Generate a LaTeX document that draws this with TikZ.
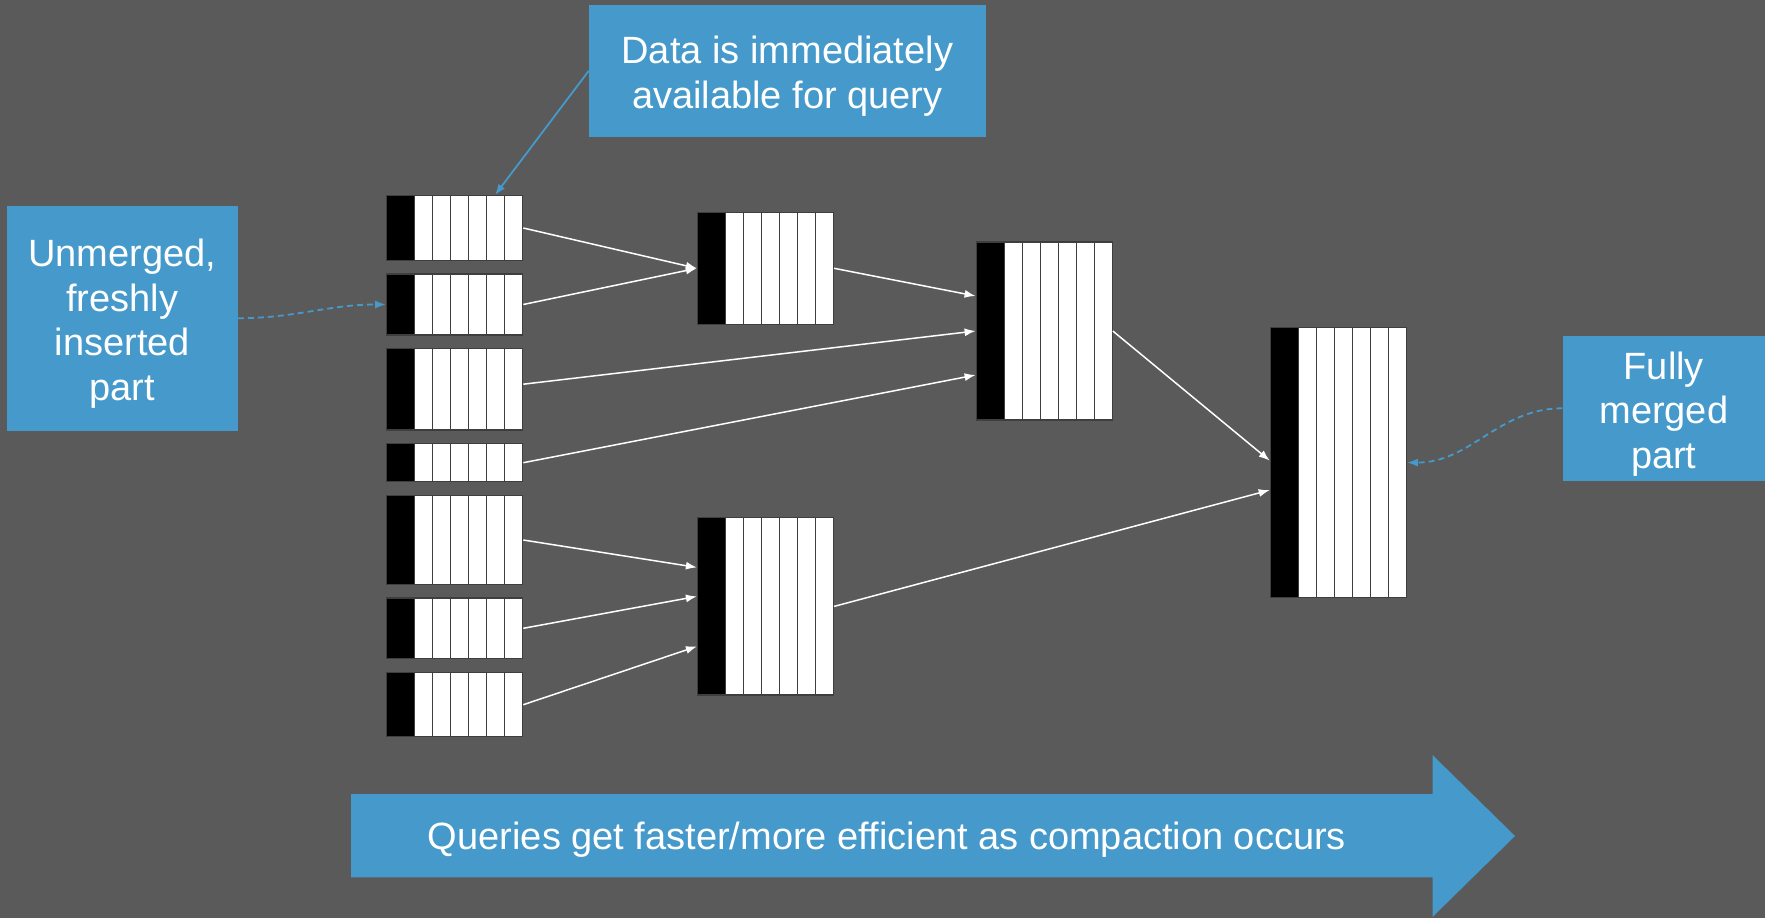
\documentclass[tikz,border=0pt]{standalone}
\usepackage{fontspec}
\setmainfont{Liberation Sans}
\usetikzlibrary{arrows.meta}
\definecolor{slate}{HTML}{5A5A5A}
\definecolor{keyblue}{HTML}{4699CB}
\definecolor{rimgray}{HTML}{3E3E3E}
\newcommand\topgap{\rule{0pt}{38.5pt}}
\tikzset{
    PT/.style ={rectangle, draw=rimgray, line width=1.2pt, fill=white, inner sep=0pt,
        minimum width=136pt, minimum height=#1,
        path picture={
            \fill[black] (path picture bounding box.south west) rectangle ([xshift=28pt]path picture bounding box.north west);
            \foreach \k in {0,...,5}
                \draw[rimgray, line width=1.2pt] ([xshift=28pt+\k*18pt]path picture bounding box.south west) -- ([xshift=28pt+\k*18pt]path picture bounding box.north west);}},
    BX/.style ={rectangle, fill=keyblue, text=white, align=center, inner sep=0pt, font=\fontsize{38}{44.5}\selectfont},
    WA/.style ={draw=white, line width=1.5pt, -{Latex[length=11pt,width=8pt]}},
    BA/.style ={draw=keyblue, line width=1.8pt, -{Latex[length=11pt,width=8pt]}},
    DA/.style ={BA, dash pattern=on 6pt off 4pt}}
\begin{document}
\begin{tikzpicture}[x=1pt,y=-1pt]
        \useasboundingbox (0,0) rectangle (1765,918);
        \fill[slate] (0,0) rectangle (1765,918);
        \node[PT=64.6pt] (u1) at (454.7,228) {};
        \node[PT=61pt] (u2) at (454.7,304.5) {};
        \node[PT=81.7pt] (u3) at (454.7,389.2) {};
        \node[PT=38pt] (u4) at (454.7,462.7) {};
        \node[PT=88.6pt] (u5) at (454.7,540) {};
        \node[PT=60.7pt] (u6) at (454.7,628.3) {};
        \node[PT=64pt] (u7) at (454.7,704.7) {};
        \node[PT=112pt] (m1) at (765.5,268.3) {};
        \node[PT=177.3pt] (m2) at (765.5,606.4) {};
        \node[PT=178pt] (m3) at (1044.2,331) {};
        \node[PT=270pt] (done) at (1338.3,462.6) {};
        \node[BX, minimum width=396.7pt, minimum height=131.7pt] (data) at (787.3,70.8) {\topgap Data is immediately\\available for query};
        \node[BX, minimum width=230.7pt, minimum height=225pt] (fresh) at (122.3,318.2) {\topgap Unmerged,\\freshly\\inserted\\part};
        \node[BX, minimum width=202.3pt, minimum height=144.7pt] (full) at (1663.8,408.3) {\topgap Fully\\merged\\part};
        \fill[keyblue] (351,794) -- (1432.5,794) -- (1432.5,755) -- (1515,836) -- (1432.5,917) -- (1432.5,877.3) -- (351,877.3) -- cycle;
        \node[text=white, anchor=base, inner sep=0pt, font=\fontsize{38}{44.5}\selectfont] (gist) at (887,849) {Queries get faster/more efficient as compaction occurs};
        \draw[WA] (u1.east) -- (m1.west);
        \draw[WA] (u2.east) -- (m1.west);
        \draw[WA] (m1.east) -- ([yshift=35pt]m3.west);
        \draw[WA] ([yshift=5pt]u3.east) -- (m3.west);
        \draw[WA] (u4.east) -- ([yshift=-44pt]m3.west);
        \draw[WA] (u5.east) -- ([yshift=39pt]m2.west);
        \draw[WA] (u6.east) -- ([yshift=10pt]m2.west);
        \draw[WA] (u7.east) -- ([yshift=-40pt]m2.west);
        \draw[WA] (m3.east) -- ([yshift=2pt]done.west);
        \draw[WA] (m2.east) -- ([yshift=-27.5pt]done.west);
        \draw[BA] (data.west) -- ([xshift=40.3pt]u1.north);
        \draw[DA] (fresh.east) to[out=0,in=180] (u2.west);
        \draw[DA] (full.west) to[out=180,in=0] (done.east);
    \end{tikzpicture}
\end{document}
